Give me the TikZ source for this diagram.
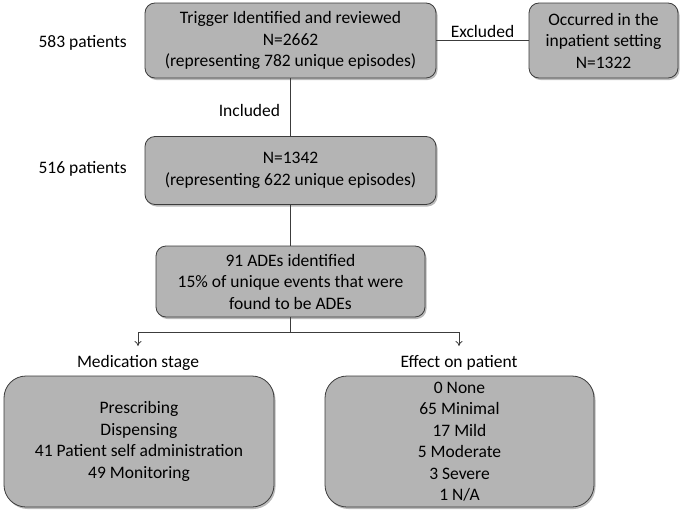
\documentclass[tikz,border=0pt]{standalone}
\usepackage{fontspec}
\setmainfont{Carlito}
\usetikzlibrary{shadows,arrows.meta}
\definecolor{boxfill}{RGB}{180,180,180}
\definecolor{linec}{RGB}{60,60,60}
\tikzset{
  box/.style={draw=linec, line width=0.8pt, fill=boxfill, rounded corners=10pt, align=center,
    inner sep=0pt, font=\fontsize{17.5}{21.5}\selectfont,
    drop shadow={shadow xshift=1.5pt, shadow yshift=-2pt, opacity=0.45, fill=black!60}},
  bigbox/.style={box, rounded corners=22pt},
  lab/.style={font=\fontsize{17.5}{21}\selectfont, inner sep=0pt},
  conn/.style={draw=linec, line width=0.8pt},
  arr/.style={conn, -{To[length=5pt,width=7pt]}}
}
\begin{document}
\begin{tikzpicture}[x=1pt,y=-1pt]
\useasboundingbox (0,0) rectangle (683,514);
\node[box, minimum width=291, minimum height=75] (b1) at (290.5,40.5)
  {Trigger Identified and reviewed\\N=2662\\(representing 782 unique episodes)};
\node[box, minimum width=149, minimum height=75] (ex) at (603.5,40.5)
  {Occurred in the\\inpatient setting\\N=1322};
\node[box, minimum width=291, minimum height=68] (b2) at (290.5,170.5)
  {N=1342\\(representing 622 unique episodes)};
\node[box, minimum width=269, minimum height=71] (b3) at (290.5,281.5)
  {91 ADEs identified\\15\% of unique events that were\\found to be ADEs};
\node[bigbox, minimum width=270, minimum height=131] (bl) at (139,441.5)
  {Prescribing\\Dispensing\\41 Patient self administration\\49 Monitoring};
\node[bigbox, minimum width=269, minimum height=131] (br) at (459.5,441.5)
  {0 None\\65 Minimal\\17 Mild\\5 Moderate\\3 Severe\\1 N/A};
\node[lab, anchor=east] (p1) at (127,43) {583 patients};
\node[lab, anchor=east] (p2) at (127,169) {516 patients};
\node[lab] (ms) at (138,363) {Medication stage};
\node[lab] (ep) at (459,363) {Effect on patient};
\draw[conn] (b1.east) -- node[lab, above=2pt] (exl) {Excluded} (ex.west);
\draw[conn] (b1.south) -- node[lab, left=10pt, pos=0.55] (inl) {Included} (b2.north);
\draw[conn] (b2.south) -- (b3.north);
\coordinate (j) at (b3.south |- 0,332);
\coordinate (jl) at (138,332);
\coordinate (jr) at (459,332);
\coordinate (tl) at (138,346);
\coordinate (tr) at (459,346);
\draw[conn] (b3.south) -- (j);
\draw[conn] (jl) -- (jr);
\draw[arr] (jl) -- (tl);
\draw[arr] (jr) -- (tr);
\end{tikzpicture}
\end{document}
